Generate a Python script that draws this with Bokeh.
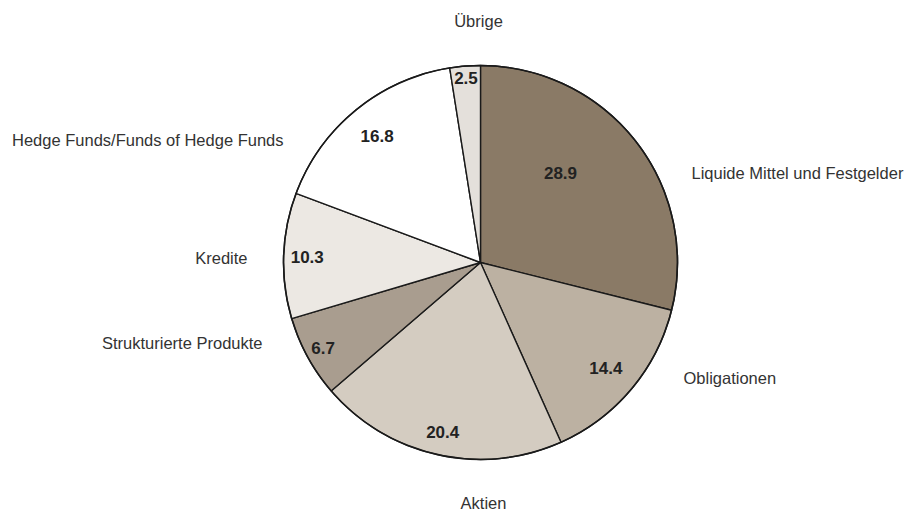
import math
from bokeh.plotting import figure
from bokeh.models import Range1d, ColumnDataSource
from bokeh.core.properties import value
from bokeh.embed import file_html
from bokeh.resources import INLINE

# ---- data ----
categories = ["Liquide Mittel und Festgelder", "Obligationen", "Aktien",
              "Strukturierte Produkte", "Kredite",
              "Hedge Funds/Funds of Hedge Funds", "Übrige"]
shares = [28.9, 14.4, 20.4, 6.7, 10.3, 16.8, 2.5]
colors = ["#8a7a66", "#bcb1a2", "#d4ccc1", "#a99d8f", "#ece8e3", "#ffffff", "#e4e0db"]

# ---- layout ----
W, H = 914, 510
TOP = 510
cx, cy = 480, TOP - 262   # data coords: x = image x, y = TOP - image y
R = 197
inner_r = [0.62, 0.83, 0.88, 0.91, 0.88, 0.83, 0.94]
outer_pos = [(211, 90, "left"), (203, -115, "left"), (3, -240, "center"),
             (-218, -80, "right"), (-233, 5, "right"), (-197, 123, "right"),
             (-2, 242, "center")]

p = figure(width=W, height=H, output_backend="svg", toolbar_location=None,
           x_range=Range1d(0, W), y_range=Range1d(TOP - H, TOP),
           min_border=0)
p.axis.visible = False
p.grid.visible = False
p.outline_line_color = None

total = sum(shares)
starts, ends, mids = [], [], []
a = math.pi / 2
for s in shares:
    e = a - s / total * 2 * math.pi
    starts.append(e)
    ends.append(a)
    mids.append((a + e) / 2)
    a = e

src = ColumnDataSource(dict(start=starts, end=ends, color=colors))
p.wedge(x=cx, y=cy, radius=R, start_angle="start", end_angle="end",
        fill_color="color", line_color="#1a1a1a", line_width=1.4, source=src)
p.circle(x=cx, y=cy, radius=R, fill_color=None, line_color="#1a1a1a", line_width=1.6)

lx = [cx + R * f * math.cos(m) for f, m in zip(inner_r, mids)]
ly = [cy + R * f * math.sin(m) for f, m in zip(inner_r, mids)]
lx[0], ly[0] = cx + 80, cy - (172 - 262)
p.text(x=lx, y=ly, text=[f"{v:.1f}" for v in shares], text_font=value("Liberation Sans"),
       text_font_style="bold", text_font_size="17px", text_color="#222222",
       text_align="center", text_baseline="middle")

for (dx, dy, al), name in zip(outer_pos, categories):
    p.text(x=[cx + dx], y=[cy + dy], text=[name], text_font=value("Liberation Sans"),
           text_font_size="16.5px", text_color="#333333", text_align=al,
           text_baseline="middle")

open("out.html", "w").write(file_html(p, INLINE))
